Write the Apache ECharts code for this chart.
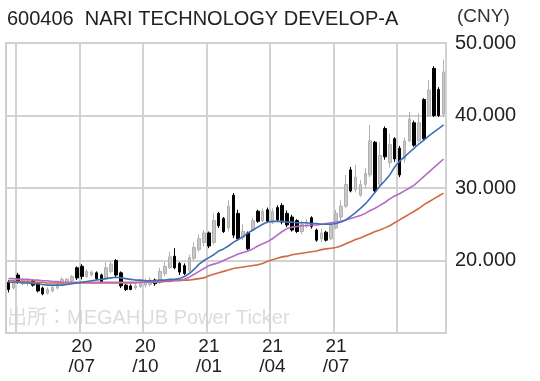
<!DOCTYPE html>
<html><head><meta charset="utf-8">
<script src="https://cdn.jsdelivr.net/npm/echarts@6/dist/echarts.min.js"></script>
<style>html,body{margin:0;padding:0;background:#fff}#c{width:540px;height:381px}</style>
</head><body><div id="c"></div>
<script>
const weeks = [
'2020-03-16','2020-03-23','2020-03-30','2020-04-06','2020-04-13','2020-04-20','2020-04-27','2020-05-04','2020-05-11','2020-05-18',
'2020-05-25','2020-06-01','2020-06-08','2020-06-15','2020-06-22','2020-06-29','2020-07-06','2020-07-13','2020-07-20','2020-07-27',
'2020-08-03','2020-08-10','2020-08-17','2020-08-24','2020-08-31','2020-09-07','2020-09-14','2020-09-21','2020-09-28','2020-10-05',
'2020-10-12','2020-10-19','2020-10-26','2020-11-02','2020-11-09','2020-11-16','2020-11-23','2020-11-30','2020-12-07','2020-12-14',
'2020-12-21','2020-12-28','2021-01-04','2021-01-11','2021-01-18','2021-01-25','2021-02-01','2021-02-08','2021-02-15','2021-02-22',
'2021-03-01','2021-03-08','2021-03-15','2021-03-22','2021-03-29','2021-04-05','2021-04-12','2021-04-19','2021-04-26','2021-05-03',
'2021-05-10','2021-05-17','2021-05-24','2021-05-31','2021-06-07','2021-06-14','2021-06-21','2021-06-28','2021-07-05','2021-07-12',
'2021-07-19','2021-07-26','2021-08-02','2021-08-09','2021-08-16','2021-08-23','2021-08-30','2021-09-06','2021-09-13','2021-09-20',
'2021-09-27','2021-10-04','2021-10-11','2021-10-18','2021-10-25','2021-11-01','2021-11-08','2021-11-15','2021-11-22','2021-11-29'];

const opens = [
17.0,16.2,18.0,16.8,16.9,17.2,16.8,16.2,15.5,15.8,
16.2,16.8,17.0,17.2,19.0,19.2,17.8,18.0,18.3,18.0,
17.6,18.5,20.0,18.3,16.6,16.5,16.2,16.4,16.6,16.7,
17.3,17.0,18.2,19.0,20.6,19.6,19.3,18.6,20.3,21.5,
22.5,23.8,22.5,26.5,25.8,24.5,29.0,26.5,23.2,23.8,
24.2,26.8,25.5,27.0,25.2,27.3,27.6,26.5,26.0,25.5,
24.0,24.8,25.9,24.2,23.0,23.9,23.0,24.5,26.0,27.5,
32.5,29.8,29.0,30.5,31.8,36.3,30.5,38.2,33.5,36.8,
35.5,34.0,36.5,39.0,36.5,42.2,40.0,46.5,43.6,40.2];
const closes = [
16.0,16.9,17.0,17.3,17.2,16.6,15.8,15.4,16.0,16.3,
16.8,17.4,17.4,17.8,17.6,17.8,18.5,18.4,17.5,17.1,
19.0,19.5,18.0,16.5,16.0,16.0,16.5,16.9,17.2,17.3,
16.8,18.5,19.2,20.5,19.0,18.4,18.2,20.4,21.8,23.0,
23.8,22.0,25.5,24.8,24.0,27.5,23.5,23.0,24.0,21.6,
25.5,25.4,26.8,25.4,26.8,25.6,25.3,24.9,24.2,24.0,
25.0,25.3,24.7,22.8,23.8,22.8,24.8,26.5,27.5,30.5,
29.6,31.5,30.5,32.0,36.5,29.6,34.5,34.3,36.0,34.0,
31.8,36.5,39.5,35.9,39.0,36.8,43.5,40.0,40.0,46.0];
const lows = [
15.6,16.0,16.8,16.6,16.5,16.4,15.6,15.2,15.3,15.6,
16.0,16.6,16.8,17.0,17.3,17.4,17.6,17.8,17.3,16.9,
17.4,18.2,17.7,16.2,15.8,15.9,16.0,16.2,16.3,16.4,
16.5,16.8,17.8,18.8,18.8,18.0,18.0,18.4,20.0,21.2,
21.9,21.7,22.2,24.5,23.8,24.0,23.1,22.8,22.8,21.4,
24.0,25.2,25.3,25.2,25.0,25.4,25.0,24.6,24.0,23.8,
23.6,24.5,24.4,22.6,22.5,22.6,22.8,24.3,25.5,27.2,
29.4,29.4,28.8,30.0,31.5,29.4,30.2,33.9,32.8,33.6,
31.5,33.5,36.3,35.7,36.3,36.6,39.8,39.8,39.8,39.8];
const highs = [
17.3,17.2,18.3,17.6,17.5,17.4,17.0,16.4,16.3,16.6,
17.0,17.7,17.6,18.0,19.2,19.5,18.8,18.6,18.5,18.2,
19.8,19.9,20.2,18.5,16.8,16.7,16.8,17.3,17.5,17.7,
17.5,19.0,19.8,21.2,21.7,19.8,19.6,20.8,22.5,23.6,
24.2,24.0,26.5,26.7,26.0,28.3,29.3,27.0,25.0,24.0,
25.9,27.0,27.2,27.3,27.2,27.6,27.9,26.9,26.3,25.7,
25.5,25.7,26.1,24.4,24.4,24.1,25.2,27.0,28.3,31.8,
32.9,33.2,31.1,32.8,38.7,36.5,36.3,38.5,37.5,37.0,
35.8,37.0,40.5,39.3,40.3,42.4,44.9,46.8,43.9,47.7];

const ma13 = [
17.0,17.0,17.0,16.9,16.9,16.8,16.8,16.7,16.6,16.6,16.6,16.6,16.7,16.8,
16.9,17.0,17.1,17.2,17.3,17.4,17.5,17.6,17.7,17.6,17.5,17.4,17.3,17.3,17.2,17.2,17.2,17.3,17.3,17.4,17.4,17.5,
17.8,18.2,18.8,19.5,20.0,20.4,20.8,21.3,21.6,22.0,22.5,22.9,23.3,23.8,24.2,24.6,25.0,25.3,25.4,
25.4,25.4,25.3,25.3,25.2,25.2,25.2,25.1,25.1,25.0,25.0,25.0,
25.1,25.3,25.6,26.1,26.6,27.2,27.8,28.6,29.4,30.3,31.0,31.8,32.9,33.7,34.3,34.9,35.5,36.1,36.6,37.2,37.7,38.2,38.7];
const ma26 = [
17.5,17.5,17.4,17.4,17.4,17.3,17.3,17.2,17.2,17.1,17.1,17.0,17.0,17.0,
17.0,17.0,17.0,17.0,17.0,17.0,17.0,17.0,17.0,17.0,17.0,17.0,17.0,17.0,17.0,17.0,17.1,17.1,17.2,17.2,17.3,17.3,
17.4,17.7,18.1,18.5,18.9,19.3,19.5,19.7,20.0,20.3,20.6,20.9,21.1,21.3,21.6,22.0,22.3,22.6,23.0,23.5,24.0,24.4,
24.6,24.7,24.8,24.8,24.9,24.9,25.0,25.1,25.2,25.3,25.4,25.6,25.8,26.0,26.2,26.5,26.9,27.2,27.6,28.0,28.5,28.9,
29.2,29.6,30.0,30.4,31.0,31.6,32.2,32.8,33.4,34.0];
const ma52 = [
17.2,17.2,17.1,17.1,17.1,17.0,17.0,17.0,16.9,16.9,16.9,16.9,16.9,16.9,16.9,16.9,16.9,16.9,16.9,16.9,
16.9,16.9,16.9,16.9,16.9,16.9,16.9,17.0,17.0,17.0,17.0,17.0,17.1,17.1,17.2,17.2,
17.3,17.3,17.4,17.5,17.6,17.9,18.1,18.3,18.5,18.7,18.9,19.0,19.1,19.2,19.3,19.4,19.6,19.9,20.1,20.3,20.5,20.6,
20.8,20.9,21.0,21.1,21.2,21.3,21.5,21.6,21.7,21.8,22.0,22.3,22.6,22.9,23.1,23.4,23.7,24.0,24.2,24.5,24.8,25.2,
25.6,26.0,26.4,26.8,27.2,27.7,28.1,28.5,28.9,29.3];

const gridWeeks = ['2020-03-30','2020-06-29','2020-09-28','2020-12-28','2021-03-29','2021-06-28','2021-09-27'];
const gridLabels = ['', '20\n/07', '20\n/10', '21\n/01', '21\n/04', '21\n/07', ''];
const yTicks = [10, 20, 30, 40, 50];

const FONT = '"Liberation Sans", Arial, sans-serif';
const candles = weeks.map((w, i) => [opens[i], closes[i], lows[i], highs[i]]);
const labelOf = (v) => { const k = gridWeeks.indexOf(v); return k >= 0 ? gridLabels[k] : ''; };

const chart = echarts.init(document.getElementById('c'));
chart.setOption({
  animation: false,
  backgroundColor: '#ffffff',
  grid: { left: 6, right: 94, top: 43, bottom: 48, show: true, borderColor: '#cdcdcd', borderWidth: 2 },
  graphic: [
    { type: 'text', left: 7, top: 9, style: { text: '600406  NARI TECHNOLOGY DEVELOP-A', fontSize: 20, fontFamily: FONT, fill: '#222' } },
    { type: 'text', left: 457, top: 7, style: { text: '(CNY)', fontSize: 19, fontFamily: FONT, fill: '#333' } },
    { type: 'text', left: 7, top: 308, z: 0, style: { text: '出所：MEGAHUB Power Ticker', fontSize: 20, fontFamily: '"Liberation Sans", "Noto Sans CJK JP", sans-serif', fill: '#dcdcdc' } }
  ],
  xAxis: {
    type: 'category', data: weeks, boundaryGap: true,
    axisLine: { show: false }, axisTick: { show: false },
    splitLine: { show: true, interval: (i, v) => gridWeeks.indexOf(v) >= 0, lineStyle: { color: '#d2d2d2', width: 2 } },
    axisLabel: { interval: (i, v) => labelOf(v) !== '', formatter: (v) => labelOf(v), fontSize: 19, fontFamily: FONT, color: '#222', lineHeight: 20, margin: 4 }
  },
  yAxis: {
    type: 'value', position: 'right', min: yTicks[0], max: yTicks[yTicks.length - 1], interval: 10,
    axisLine: { show: false }, axisTick: { show: false },
    splitLine: { show: true, lineStyle: { color: '#d2d2d2', width: 2 } },
    axisLabel: { formatter: (v) => v === yTicks[0] ? '' : v.toFixed(3), fontSize: 20, fontFamily: FONT, color: '#222', margin: 9 }
  },
  series: [
    { type: 'candlestick', data: candles, barWidth: 3,
      itemStyle: { color: '#c8c8c8', color0: '#000000', borderColor: '#b0b0b0', borderColor0: '#000000', borderWidth: 1 } },
    { type: 'line', data: ma52, showSymbol: false, symbol: 'none', lineStyle: { color: '#d2693f', width: 1.6 }, z: 3 },
    { type: 'line', data: ma26, showSymbol: false, symbol: 'none', lineStyle: { color: '#b56ac8', width: 1.6 }, z: 3 },
    { type: 'line', data: ma13, showSymbol: false, symbol: 'none', lineStyle: { color: '#3d6fb4', width: 1.6 }, z: 3 }
  ]
});
</script></body></html>
